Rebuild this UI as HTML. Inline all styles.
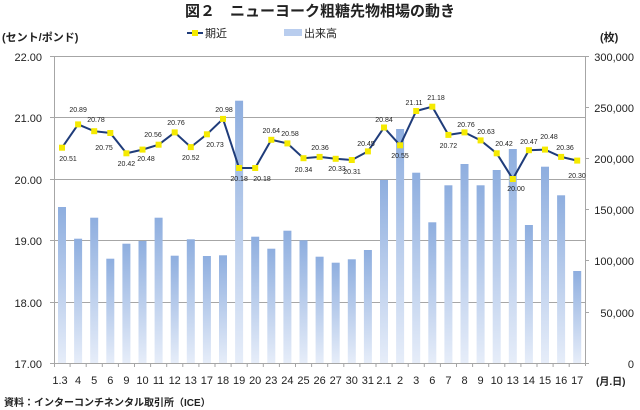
<!DOCTYPE html>
<html><head><meta charset="utf-8"><style>
body{margin:0;background:#fff;width:640px;height:410px;overflow:hidden}
svg{display:block;font-family:"Liberation Sans","Noto Sans CJK JP",sans-serif}
.dl{font-size:7px;fill:#222;text-anchor:middle}
.xl{font-size:11px;fill:#222;text-anchor:middle}
.yl{font-size:11px;fill:#222}
</style></head><body>
<svg width="640" height="410" viewBox="0 0 640 410">
<defs><linearGradient id="g" x1="0" y1="0" x2="0" y2="1"><stop offset="0" stop-color="#8eaedf"/><stop offset="1" stop-color="#e6edf9"/></linearGradient></defs>
<text x="320" y="16" font-size="15" font-weight="bold" text-anchor="middle" fill="#222">図２　ニューヨーク粗糖先物相場の動き</text>
<text x="2" y="41" font-size="11" font-weight="bold" fill="#222">(セント/ポンド)</text>
<text x="600" y="41" font-size="11" font-weight="bold" fill="#222">(枚)</text>
<line x1="187" y1="33" x2="203" y2="33" stroke="#1f3c7a" stroke-width="2"/><rect x="192" y="30" width="6" height="6" fill="#f5ea00"/>
<text x="205" y="37" font-size="11" fill="#222">期近</text>
<rect x="284" y="29" width="18" height="7" fill="#b9cdee"/>
<text x="304" y="37" font-size="11" fill="#222">出来高</text>
<g stroke="#a6a6a6" stroke-width="1">
<line x1="54" y1="56.5" x2="585" y2="56.5"/><line x1="54" y1="117.5" x2="585" y2="117.5"/><line x1="54" y1="179.5" x2="585" y2="179.5"/><line x1="54" y1="240.5" x2="585" y2="240.5"/><line x1="54" y1="302.5" x2="585" y2="302.5"/>
<line x1="50" y1="56.5" x2="54" y2="56.5"/><line x1="50" y1="117.5" x2="54" y2="117.5"/><line x1="50" y1="179.5" x2="54" y2="179.5"/><line x1="50" y1="240.5" x2="54" y2="240.5"/><line x1="50" y1="302.5" x2="54" y2="302.5"/>
<line x1="585" y1="56.5" x2="589" y2="56.5"/><line x1="585" y1="107.5" x2="589" y2="107.5"/><line x1="585" y1="158.5" x2="589" y2="158.5"/><line x1="585" y1="209.5" x2="589" y2="209.5"/><line x1="585" y1="260.5" x2="589" y2="260.5"/><line x1="585" y1="312.5" x2="589" y2="312.5"/>
<line x1="54.5" y1="56" x2="54.5" y2="363"/><line x1="585.5" y1="56" x2="585.5" y2="366"/><line x1="50" y1="363.5" x2="589" y2="363.5"/>
</g>
<g stroke="#a6a6a6"><path d="M70.1 363v4M86.2 363v4M102.3 363v4M118.4 363v4M134.5 363v4M150.6 363v4M166.7 363v4M182.8 363v4M198.9 363v4M215 363v4M231.1 363v4M247.2 363v4M263.3 363v4M279.4 363v4M295.5 363v4M311.6 363v4M327.7 363v4M343.8 363v4M359.9 363v4M376 363v4M392.1 363v4M408.2 363v4M424.3 363v4M440.4 363v4M456.5 363v4M472.6 363v4M488.7 363v4M504.8 363v4M520.9 363v4M537 363v4M553.1 363v4M569.2 363v4M54.5 363v4"/></g>
<g class="yl" text-anchor="end"><text x="42" y="61">22.00</text><text x="42" y="122">21.00</text><text x="42" y="184">20.00</text><text x="42" y="245">19.00</text><text x="42" y="307">18.00</text><text x="42" y="368">17.00</text></g>
<g class="yl" text-anchor="end"><text x="634" y="61">300,000</text><text x="634" y="112">250,000</text><text x="634" y="163">200,000</text><text x="634" y="214">150,000</text><text x="634" y="265">100,000</text><text x="634" y="317">50,000</text><text x="634" y="368">0</text></g>
<g fill="url(#g)">
<rect x="58" y="207" width="8" height="156"/><rect x="74.1" y="238.7" width="8" height="124.3"/><rect x="90.2" y="217.7" width="8" height="145.3"/><rect x="106.3" y="258.7" width="8" height="104.3"/><rect x="122.4" y="243.7" width="8" height="119.3"/><rect x="138.5" y="241" width="8" height="122"/><rect x="154.6" y="217.7" width="8" height="145.3"/><rect x="170.7" y="255.7" width="8" height="107.3"/><rect x="186.8" y="239.3" width="8" height="123.7"/><rect x="202.9" y="256" width="8" height="107"/><rect x="219" y="255.3" width="8" height="107.7"/><rect x="235.1" y="100.7" width="8" height="262.3"/><rect x="251.2" y="236.7" width="8" height="126.3"/><rect x="267.3" y="248.7" width="8" height="114.3"/><rect x="283.4" y="230.7" width="8" height="132.3"/><rect x="299.5" y="240.3" width="8" height="122.7"/><rect x="315.6" y="256.7" width="8" height="106.3"/><rect x="331.7" y="262.7" width="8" height="100.3"/><rect x="347.8" y="259.3" width="8" height="103.7"/><rect x="363.9" y="250" width="8" height="113"/><rect x="380" y="180" width="8" height="183"/><rect x="396.1" y="129" width="8" height="234"/><rect x="412.2" y="172.7" width="8" height="190.3"/><rect x="428.3" y="222.3" width="8" height="140.7"/><rect x="444.4" y="185.3" width="8" height="177.7"/><rect x="460.5" y="164" width="8" height="199"/><rect x="476.6" y="185.3" width="8" height="177.7"/><rect x="492.7" y="170" width="8" height="193"/><rect x="508.8" y="149" width="8" height="214"/><rect x="524.9" y="225" width="8" height="138"/><rect x="541" y="166.7" width="8" height="196.3"/><rect x="557.1" y="195.3" width="8" height="167.7"/><rect x="573.2" y="271" width="8" height="92"/>
</g>
<polyline fill="none" stroke="#1f3c7a" stroke-width="2" points="62,147.7 78.1,124.4 94.2,131.2 110.3,133 126.4,153.3 142.5,149.6 158.6,144.7 174.7,132.4 190.8,147.1 206.9,134.3 223,118.9 239.1,168 255.2,168 271.3,139.8 287.4,143.4 303.5,158.2 319.6,156.9 335.7,158.8 351.8,160 367.9,151.4 384,127.5 400.1,145.3 416.2,111 432.3,106.7 448.4,134.9 464.5,132.4 480.6,140.4 496.7,153.3 512.8,179 528.9,150.2 545,149.6 561.1,156.9 577.2,160.6"/>
<g fill="#f5ea00">
<rect x="59" y="144.7" width="6" height="6"/><rect x="75.1" y="121.4" width="6" height="6"/><rect x="91.2" y="128.2" width="6" height="6"/><rect x="107.3" y="130" width="6" height="6"/><rect x="123.4" y="150.3" width="6" height="6"/><rect x="139.5" y="146.6" width="6" height="6"/><rect x="155.6" y="141.7" width="6" height="6"/><rect x="171.7" y="129.4" width="6" height="6"/><rect x="187.8" y="144.1" width="6" height="6"/><rect x="203.9" y="131.3" width="6" height="6"/><rect x="220" y="115.9" width="6" height="6"/><rect x="236.1" y="165" width="6" height="6"/><rect x="252.2" y="165" width="6" height="6"/><rect x="268.3" y="136.8" width="6" height="6"/><rect x="284.4" y="140.4" width="6" height="6"/><rect x="300.5" y="155.2" width="6" height="6"/><rect x="316.6" y="153.9" width="6" height="6"/><rect x="332.7" y="155.8" width="6" height="6"/><rect x="348.8" y="157" width="6" height="6"/><rect x="364.9" y="148.4" width="6" height="6"/><rect x="381" y="124.5" width="6" height="6"/><rect x="397.1" y="142.3" width="6" height="6"/><rect x="413.2" y="108" width="6" height="6"/><rect x="429.3" y="103.7" width="6" height="6"/><rect x="445.4" y="131.9" width="6" height="6"/><rect x="461.5" y="129.4" width="6" height="6"/><rect x="477.6" y="137.4" width="6" height="6"/><rect x="493.7" y="150.3" width="6" height="6"/><rect x="509.8" y="176" width="6" height="6"/><rect x="525.9" y="147.2" width="6" height="6"/><rect x="542" y="146.6" width="6" height="6"/><rect x="558.1" y="153.9" width="6" height="6"/><rect x="574.2" y="157.6" width="6" height="6"/>
</g>
<g class="dl">
<text x="68" y="161">20.51</text><text x="78.1" y="112">20.89</text><text x="96" y="122">20.78</text><text x="104" y="150">20.75</text><text x="126.4" y="166">20.42</text><text x="146" y="161">20.48</text><text x="153" y="137">20.56</text><text x="176" y="125">20.76</text><text x="190.8" y="160">20.52</text><text x="215" y="147">20.73</text><text x="224" y="112">20.98</text><text x="239.1" y="181">20.18</text><text x="262" y="181">20.18</text><text x="271.3" y="133">20.64</text><text x="290" y="136">20.58</text><text x="303.5" y="172">20.34</text><text x="320" y="150">20.36</text><text x="337" y="171">20.33</text><text x="352" y="174">20.31</text><text x="366" y="146">20.45</text><text x="384" y="122">20.84</text><text x="400" y="158">20.55</text><text x="414" y="105">21.11</text><text x="436" y="100">21.18</text><text x="448.4" y="148">20.72</text><text x="466" y="127">20.76</text><text x="486" y="134">20.63</text><text x="504" y="146">20.42</text><text x="516" y="191">20.00</text><text x="528.9" y="144">20.47</text><text x="549" y="139">20.48</text><text x="565" y="150">20.36</text><text x="577" y="178">20.30</text>
</g>
<g class="xl">
<text x="60" y="384">1.3</text><text x="78.1" y="384">4</text><text x="94.2" y="384">5</text><text x="110.3" y="384">6</text><text x="126.4" y="384">9</text><text x="142.5" y="384">10</text><text x="158.6" y="384">11</text><text x="174.7" y="384">12</text><text x="190.8" y="384">13</text><text x="206.9" y="384">17</text><text x="223" y="384">18</text><text x="239.1" y="384">19</text><text x="255.2" y="384">20</text><text x="271.3" y="384">23</text><text x="287.4" y="384">24</text><text x="303.5" y="384">25</text><text x="319.6" y="384">26</text><text x="335.7" y="384">27</text><text x="351.8" y="384">30</text><text x="367.9" y="384">31</text><text x="384" y="384">2.1</text><text x="400.1" y="384">2</text><text x="416.2" y="384">3</text><text x="432.3" y="384">6</text><text x="448.4" y="384">7</text><text x="464.5" y="384">8</text><text x="480.6" y="384">9</text><text x="496.7" y="384">10</text><text x="512.8" y="384">13</text><text x="528.9" y="384">14</text><text x="545" y="384">15</text><text x="561.1" y="384">16</text><text x="577.2" y="384">17</text>
</g>
<text x="596" y="385" font-size="10" font-weight="bold" fill="#222">(月.日)</text>
<text x="4" y="406" font-size="10" font-weight="bold" fill="#222">資料：インターコンチネンタル取引所（ICE）</text>
</svg>
</body></html>
